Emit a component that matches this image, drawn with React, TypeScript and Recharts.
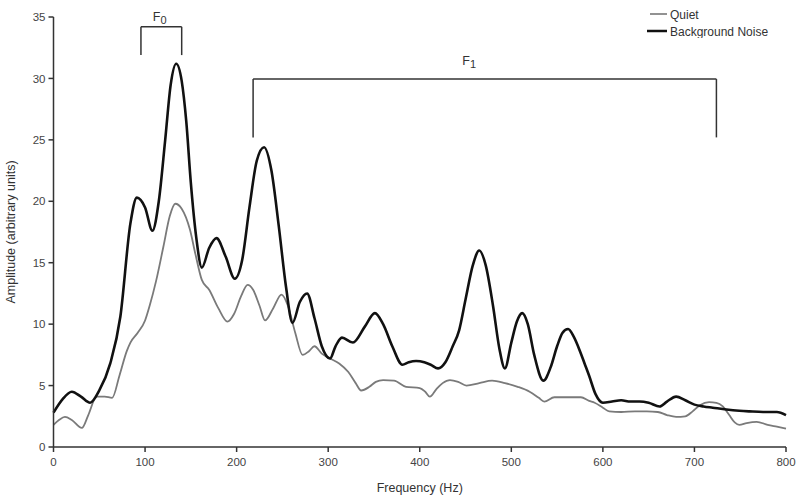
import {
  Line,
  LineChart,
  ReferenceDot,
  ReferenceLine,
  XAxis,
  YAxis,
} from "recharts";

const quietHz = [
  0, 6, 12.5, 20, 31, 38, 47, 56, 64, 72, 80, 84, 92, 100, 105, 112, 120, 127,
  133, 140, 149, 155, 162, 170, 180, 190, 197, 205, 212, 218, 225, 231, 240,
  249, 256, 264, 272, 279, 285, 293, 302, 312, 322, 330, 336, 345, 352, 360,
  372, 385, 400, 406, 411, 418, 425, 433, 442, 451, 465, 479, 493, 507, 520,
  530, 536, 547, 560, 576, 585, 591, 600, 607, 620, 635, 648, 660, 670, 680,
  690, 698, 706, 716, 724, 731, 738, 744, 749, 757, 768, 780, 790, 800,
];
const quietAmp = [
  1.8, 2.2, 2.45, 2.2, 1.55, 2.6, 4.1, 4.1, 4.0, 5.8, 7.8, 8.5, 9.3, 10.3,
  11.5, 13.5, 16.3, 18.8, 19.8, 19.4, 17.7, 15.7, 13.6, 12.8, 11.3, 10.2, 10.8,
  12.3, 13.2, 12.8, 11.5, 10.3, 11.3, 12.4, 11.5, 9.3, 7.5, 7.8, 8.2, 7.6, 7.2,
  6.8, 6.1, 5.2, 4.6, 4.9, 5.3, 5.45, 5.4, 4.9, 4.8, 4.5, 4.1, 4.7, 5.2, 5.45,
  5.3, 5.0, 5.2, 5.4, 5.2, 4.9, 4.5, 4.0, 3.7, 4.05, 4.05, 4.05, 3.75, 3.6, 3.2,
  2.9, 2.85, 2.9, 2.9, 2.85, 2.6, 2.45, 2.5, 2.9, 3.4, 3.65, 3.6, 3.3, 2.6, 2.0,
  1.8, 1.95, 2.05, 1.8, 1.65, 1.5,
];

const noiseHz = [
  0, 10, 20, 30, 40, 50, 62, 73, 84, 91, 100, 108, 115, 122, 128, 134, 140,
  145, 150, 156, 162, 170, 178, 188, 198, 206, 214, 222, 230, 238, 246, 254,
  261, 269, 277, 285, 293, 302, 308, 315, 327, 340, 351, 360, 370, 381, 388,
  396, 405, 412, 420, 428, 436, 443, 450, 458, 465, 472, 480, 487, 493, 500,
  506, 512, 518, 525, 535, 543, 550, 556, 562, 568, 575, 580, 585, 592, 600,
  610, 620, 630, 640, 650, 662, 670, 680, 690, 700, 710, 720, 735, 749, 760,
  775, 790, 800,
];
const noiseAmp = [
  2.8, 3.9, 4.5, 4.1, 3.6, 4.6, 6.8, 10.6, 18.2, 20.3, 19.5, 17.6, 20, 25, 29.5,
  31.2, 29.8, 26.5, 21.5, 17, 14.6, 16.2, 17.0, 15.5, 13.7, 15.2, 19.5, 23.3,
  24.4, 22.5, 18, 13, 10.1, 11.8, 12.5, 10.5, 8.2, 7.2, 8.2, 8.9, 8.5, 9.8,
  10.9, 10, 8.2, 6.7, 6.9, 7.0, 6.9, 6.7, 6.4, 6.9, 8.2, 9.5, 12, 14.8, 16.0,
  14.8, 11.5, 8, 6.4, 8.5, 10.2, 10.9, 10, 7.5, 5.4, 6.5, 8.2, 9.3, 9.6, 9.0,
  7.8, 6.8, 5.8, 4.3, 3.6, 3.7, 3.8, 3.7, 3.7, 3.6, 3.3, 3.7, 4.1, 3.8, 3.45,
  3.3, 3.2, 3.05, 2.95, 2.9, 2.85, 2.85, 2.6,
];

const xTicks = [0, 100, 200, 300, 400, 500, 600, 700, 800];
const yTicks = [0, 5, 10, 15, 20, 25, 30, 35];

// bracket ends (Hz) and heights (amplitude) for the F0 / F1 markers
const f0Span = [95.5, 140];
const f0Top = 34.2;
const f0Bottom = 31.9;
const f1Span = [218, 724];
const f1Top = 29.95;
const f1Bottom = 25.2;

const quietData = quietHz.map((hz, i) => ({ hz, amp: quietAmp[i] }));
const noiseData = noiseHz.map((hz, i) => ({ hz, amp: noiseAmp[i] }));

const FONT = "'Liberation Sans', Arial, sans-serif";
const tickStyle = { fontSize: 11.5, fill: "#444", fontFamily: FONT };
const bracket = { stroke: "#333", strokeWidth: 1.5 };

function FLabel(sub: string) {
  return (p: any) => (
    <text
      x={p.cx}
      y={p.cy}
      textAnchor="middle"
      fontFamily={FONT}
      fontSize={12.5}
      fill="#333"
    >
      F
      <tspan fontSize={11} dy={3}>
        {sub}
      </tspan>
    </text>
  );
}

// legend drawn as an overlay so it doesn't shrink the plot area
function LegendBox() {
  const items = [
    { name: "Quiet", color: "#777", w: 1.6 },
    { name: "Background Noise", color: "#111", w: 2.5 },
  ];
  return (
    <svg
      width={150}
      height={36}
      style={{ position: "absolute", left: 645, top: 2 }}
    >
      {items.map((it, i) => (
        <g key={it.name}>
          <line
            x1={i === 0 ? 5 : 2}
            x2={22}
            y1={12 + i * 17}
            y2={12 + i * 17}
            stroke={it.color}
            strokeWidth={it.w}
          />
          <text
            x={25}
            y={16.5 + i * 17}
            fontFamily={FONT}
            fontSize={12}
            fill="#333"
          >
            {it.name}
          </text>
        </g>
      ))}
    </svg>
  );
}

export default function App() {
  return (
    <div
      style={{
        position: "absolute",
        left: 0,
        top: 0,
        width: 800,
        height: 498,
        background: "#fff",
      }}
    >
      <LineChart
        width={800}
        height={498}
        margin={{ top: 17, right: 14, bottom: 0, left: 0 }}
      >
        <XAxis
          type="number"
          dataKey="hz"
          domain={[0, 800]}
          ticks={xTicks}
          allowDuplicatedCategory={false}
          tick={tickStyle}
          tickSize={5}
          tickMargin={6}
          height={51}
          stroke="#333"
          strokeWidth={1.5}
          label={{
            value: "Frequency (Hz)",
            position: "insideBottom",
            offset: 6,
            style: { fontSize: 12.5, fill: "#333", fontFamily: FONT },
          }}
        />
        <YAxis
          type="number"
          domain={[0, 35]}
          ticks={yTicks}
          tick={tickStyle}
          tickSize={5}
          tickMargin={3}
          width={53.5}
          stroke="#333"
          strokeWidth={1.5}
          label={{
            value: "Amplitude (arbitrary units)",
            angle: -90,
            position: "insideLeft",
            offset: 11,
            style: {
              fontSize: 12.5,
              fill: "#333",
              fontFamily: FONT,
              textAnchor: "middle",
            },
          }}
        />

        <ReferenceLine
          segment={[
            { x: f0Span[0], y: f0Top },
            { x: f0Span[1], y: f0Top },
          ]}
          {...bracket}
        />
        <ReferenceLine
          segment={[
            { x: f0Span[0], y: f0Top },
            { x: f0Span[0], y: f0Bottom },
          ]}
          {...bracket}
        />
        <ReferenceLine
          segment={[
            { x: f0Span[1], y: f0Top },
            { x: f0Span[1], y: f0Bottom },
          ]}
          {...bracket}
        />
        <ReferenceLine
          segment={[
            { x: f1Span[0], y: f1Top },
            { x: f1Span[1], y: f1Top },
          ]}
          {...bracket}
        />
        <ReferenceLine
          segment={[
            { x: f1Span[0], y: f1Top },
            { x: f1Span[0], y: f1Bottom },
          ]}
          {...bracket}
        />
        <ReferenceLine
          segment={[
            { x: f1Span[1], y: f1Top },
            { x: f1Span[1], y: f1Bottom },
          ]}
          {...bracket}
        />
        <ReferenceDot x={116} y={34.7} r={0} shape={FLabel("0")} />
        <ReferenceDot x={454} y={31.1} r={0} shape={FLabel("1")} />

        <Line
          data={quietData}
          dataKey="amp"
          name="Quiet"
          type="monotone"
          stroke="#7a7a7a"
          strokeWidth={1.8}
          dot={false}
          isAnimationActive={false}
        />
        <Line
          data={noiseData}
          dataKey="amp"
          name="Background Noise"
          type="monotone"
          stroke="#111"
          strokeWidth={2.6}
          dot={false}
          isAnimationActive={false}
        />
      </LineChart>
      <LegendBox />
    </div>
  );
}
